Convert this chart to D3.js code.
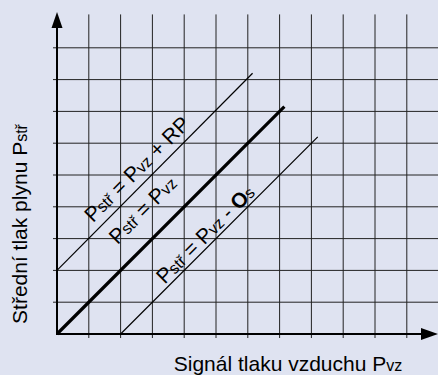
<!DOCTYPE html>
<html>
<head>
<meta charset="utf-8">
<script src="https://cdn.jsdelivr.net/npm/d3@7"></script>
<style>
  html, body { margin: 0; padding: 0; background: #dfe3f1; }
  svg { display: block; font-family: "Liberation Sans", Arial, sans-serif; }
  .grid line { stroke: #222; stroke-width: 1; }
</style>
</head>
<body>
<svg id="chart"></svg>
<script>
// grid positions (in chart units)
const gridX = [1, 2, 3, 4, 5, 6, 7, 8, 9, 10, 11];
const gridY = [1, 2, 3, 4, 5, 6, 7, 8, 9];

// the three characteristic lines
const upperLine = [[0, 2], [6.15, 8.2]];
const centerLine = [[0, 0], [7.15, 7.15]];
const lowerLine = [[2, 0], [8.2, 6.2]];

// label text, pieces: [text, size, bold]
const upperLabel = [["P", 21], ["stř", 16], [" = ", 21], ["P", 21], ["vz", 16], [" + RP", 21]];
const centerLabel = [["P", 21], ["stř", 16], [" = ", 21], ["P", 21], ["vz", 16]];
const lowerLabel = [["P", 21], ["stř", 16], [" = ", 21], ["P", 21], ["vz", 16], [" - ", 21], ["O", 21, true], ["s", 16]];

const xTitle = [["Signál tlaku vzduchu P", 21], ["vz", 16]];
const yTitle = [["Střední tlak plynu P", 21], ["stř", 16]];

const width = 438, height = 375;
const origin = { x: 57, y: 334 };
const unit = 31.8;

const svg = d3.select('#chart')
    .attr('width', width)
    .attr('height', height);

const xScale = d3.scaleLinear().domain([0, 12]).range([origin.x, origin.x + unit * 12]);
const yScale = d3.scaleLinear().domain([0, 10]).range([origin.y, origin.y - unit * 10]);

// grid
const grid = svg.append('g').attr('class', 'grid');
grid.selectAll('.vline')
    .data(gridX)
    .join('line')
    .attr('class', 'vline')
    .attr('x1', d => xScale(d)).attr('x2', d => xScale(d))
    .attr('y1', yScale(10.05)).attr('y2', origin.y + 4);

grid.selectAll('.hline')
    .data(gridY)
    .join('line')
    .attr('class', 'hline')
    .attr('x1', origin.x - 4).attr('x2', width)
    .attr('y1', d => yScale(d)).attr('y2', d => yScale(d));

// axes
svg.append('line')
    .attr('x1', origin.x).attr('x2', origin.x)
    .attr('y1', origin.y + 1).attr('y2', 26)
    .attr('stroke', '#000').attr('stroke-width', 2);
svg.append('line')
    .attr('x1', origin.x - 1).attr('x2', width - 14)
    .attr('y1', origin.y).attr('y2', origin.y)
    .attr('stroke', '#000').attr('stroke-width', 2);

svg.append('path')
    .attr('d', `M${origin.x},12 L${origin.x - 5.5},28 L${origin.x + 5.5},28 Z`)
    .attr('fill', '#000');
svg.append('path')
    .attr('d', `M${width},${origin.y} L${width - 17},${origin.y - 6} L${width - 17},${origin.y + 6} Z`)
    .attr('fill', '#000');

// characteristic lines
const line = d3.line()
    .x(d => xScale(d[0]))
    .y(d => yScale(d[1]));

[[upperLine, 1.2], [centerLine, 3.2], [lowerLine, 1.2]].forEach(([pts, w]) => {
    svg.append('path')
        .datum(pts)
        .attr('d', line)
        .attr('fill', 'none')
        .attr('stroke', '#000')
        .attr('stroke-width', w);
});

function addText(parts, x, y, angle, anchor) {
    const t = svg.append('text')
        .attr('transform', `translate(${x},${y}) rotate(${angle})`)
        .attr('text-anchor', anchor)
        .attr('fill', '#000');
    parts.forEach(p => {
        t.append('tspan')
            .attr('font-size', p[1])
            .attr('font-weight', p[2] ? 'bold' : 'normal')
            .text(p[0]);
    });
    return t;
}

// labels placed along their lines, offset perpendicular (up-left)
function lineLabel(parts, pts, t, offset) {
    const x0 = pts[0][0], y0 = pts[0][1];
    const px = xScale(x0 + t) - offset / Math.SQRT2;
    const py = yScale(y0 + t) - offset / Math.SQRT2;
    addText(parts, px, py, -45, 'middle');
}

lineLabel(upperLabel, upperLine, 2.85, 8);
lineLabel(centerLabel, centerLine, 3.3, 20);
lineLabel(lowerLabel, lowerLine, 2.9, 3.5);

// axis titles
addText(xTitle, 288, 371, 0, 'middle');
addText(yTitle, 27, 224, -90, 'middle');
</script>
</body>
</html>
